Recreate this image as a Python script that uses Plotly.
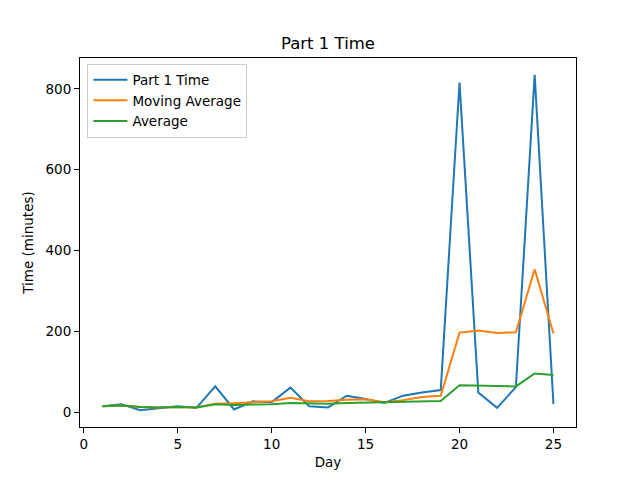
import plotly.graph_objects as go

days = list(range(1, 26))
part1_time = [15, 20, 5, 10, 15, 11, 64, 7, 27, 25, 61, 15, 12, 41, 33, 23, 41, 49, 55, 816, 49, 11, 62, 835, 20]
moving_avg = [15, 17, 13, 12, 13, 12, 21, 22, 25, 27, 36, 27, 28, 31, 32, 25, 30, 38, 41, 197, 202, 196, 198, 354, 195]
average = [15, 17, 13, 12, 13, 12, 20, 18, 19, 20, 23, 22, 21, 23, 24, 24, 25, 26, 28, 67, 66, 64, 64, 96, 92]

FONT = "DejaVu Sans"
fig = go.Figure()
fig.add_trace(go.Scatter(x=days, y=part1_time, mode="lines", name="Part 1 Time",
                         line=dict(color="#1f77b4", width=2)))
fig.add_trace(go.Scatter(x=days, y=moving_avg, mode="lines", name="Moving Average",
                         line=dict(color="#ff7f0e", width=2)))
fig.add_trace(go.Scatter(x=days, y=average, mode="lines", name="Average",
                         line=dict(color="#2ca02c", width=2)))

axis_common = dict(showgrid=False, zeroline=False, showline=True, linecolor="black",
                   linewidth=1, mirror=True, ticks="outside", ticklen=5, tickcolor="black",
                   automargin=False,
                   tickfont=dict(family=FONT, size=13.5, color="black"))
fig.update_layout(
    width=640, height=480,
    margin=dict(l=72, r=72, t=50, b=61),
    paper_bgcolor="white", plot_bgcolor="white",
    title=dict(text="Part 1 Time", x=0.5, xanchor="center", y=1 - 35 / 480, yanchor="middle",
               font=dict(family=FONT, size=16.5, color="black")),
    xaxis=dict(range=[-0.2, 26.2], tickvals=[0, 5, 10, 15, 20, 25],
               title=dict(text="Day", font=dict(family=FONT, size=13.5, color="black"), standoff=6),
               **axis_common),
    yaxis=dict(range=[-36.5, 876.5], tickvals=[0, 200, 400, 600, 800],
               title=dict(text="Time (minutes)", font=dict(family=FONT, size=13.5, color="black"), standoff=8),
               **axis_common),
    legend=dict(x=0.015, y=0.985, xanchor="left", yanchor="top",
                bgcolor="rgba(255,255,255,0.8)", bordercolor="#cccccc", borderwidth=1,
                font=dict(family=FONT, size=13.5, color="black"), tracegroupgap=0,
                itemwidth=34),
    showlegend=True,
)
fig.write_html("out.html")
